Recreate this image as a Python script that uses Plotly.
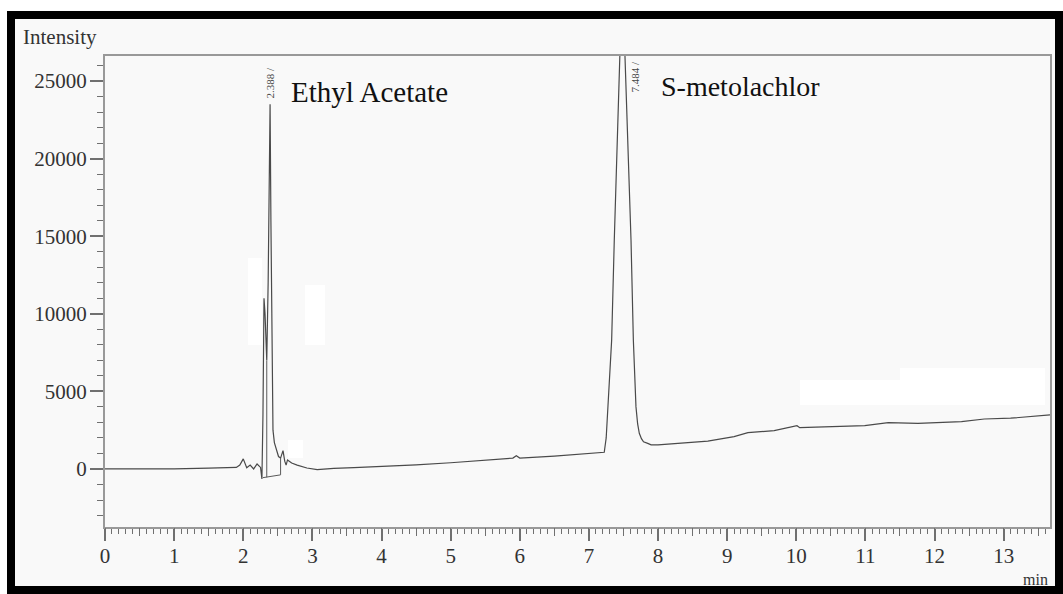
import plotly.graph_objects as go

# ---- data ----
time_min = [0.0, 0.5, 1.0, 1.5, 1.9, 1.95, 2.0, 2.05, 2.1, 2.15, 2.2, 2.25, 2.27,
            2.285, 2.30, 2.315, 2.34, 2.36, 2.375, 2.388, 2.40, 2.415, 2.43, 2.45,
            2.48, 2.51, 2.54, 2.575, 2.60, 2.62, 2.64, 2.70, 2.78, 2.92, 3.07, 3.31,
            3.6, 4.0, 4.27, 4.5, 5.0, 5.5, 5.9, 5.95, 6.0, 6.5, 7.0, 7.222, 7.25,
            7.271, 7.30, 7.329, 7.367, 7.406, 7.445, 7.484, 7.522, 7.561, 7.609,
            7.643, 7.665, 7.681, 7.705, 7.729, 7.76, 7.79, 7.851, 7.9, 8.0, 8.38,
            8.72, 9.1, 9.3, 9.68, 10.01, 10.05, 10.55, 10.99, 11.33, 11.76, 12.39,
            12.72, 13.1, 13.67]
intensity = [0, 0, 10, 60, 100, 250, 650, 80, 250, 0, 320, 100, -650,
             3500, 11000, 10000, 7000, 12000, 20000, 23500, 16000, 7000, 2500, 1700,
             1200, 800, 700, 1180, 500, 250, 580, 380, 250, 60, -40, 40,
             80, 150, 200, 260, 400, 540, 700, 850, 700, 830, 1000, 1075, 2000,
             3600, 6000, 8300, 14750, 21200, 26570, 32000, 26570, 21200, 14750,
             8300, 5600, 4000, 2900, 2300, 1950, 1750, 1650, 1550, 1550, 1670,
             1800, 2080, 2340, 2470, 2790, 2660, 2730, 2790, 2980, 2940, 3050,
             3220, 3270, 3480]

# integration baseline / drop lines drawn by the software
base_t = [2.285, 2.54, 2.54, None, 2.34, 2.34]
base_i = [-560, -380, 700, None, -540, 7000]

peak_labels = ["2.388 /", "7.484 /"]
peak_label_t = [2.393, 7.66]
compound_names = ["Ethyl Acetate", "S-metolachlor"]

x_range = [0, 13.67]
y_range = [-3740, 26610]

# ---- layout geometry (pixels) ----
W, H = 1063, 594
L, R, T, B = 105, 13, 56, 67
PW, PH = W - L - R, H - T - B

def px(x):
    return (x - L) / PW

def py(y):
    return (H - B - y) / PH

SERIF = "Liberation Serif, Times New Roman, serif"

fig = go.Figure()
fig.add_trace(go.Scatter(x=time_min, y=intensity, mode="lines",
                         line=dict(color="#4a4a4a", width=1.2), hoverinfo="skip",
                         showlegend=False))
fig.add_trace(go.Scatter(x=base_t, y=base_i, mode="lines",
                         line=dict(color="#5a5a5a", width=1), hoverinfo="skip",
                         showlegend=False))
# invisible trace to carry the half-minute tick axis
fig.add_trace(go.Scatter(x=[0], y=[0], xaxis="x2", mode="markers",
                         marker=dict(opacity=0), hoverinfo="skip", showlegend=False))

axis_col = "#999999"
tick_col = "#707070"
tick_font = dict(family=SERIF, size=21, color="#333333")

fig.update_layout(
    width=W, height=H,
    margin=dict(l=L, r=R, t=T, b=B, pad=0),
    paper_bgcolor="white",
    plot_bgcolor="rgba(0,0,0,0)",
    xaxis=dict(range=x_range, dtick=1, tick0=0, ticks="outside", ticklen=12,
               tickwidth=1.5, tickcolor=tick_col, showgrid=False, zeroline=False,
               showline=True, linecolor=axis_col, linewidth=2, mirror=True,
               tickfont=tick_font, tickformat="d", ticklabelstandoff=-3,
               minor=dict(dtick=0.1, tick0=0, ticks="outside", ticklen=5,
                          tickwidth=1.2, tickcolor=tick_col, showgrid=False)),
    xaxis2=dict(range=x_range, overlaying="x", anchor="y", side="bottom",
                dtick=0.5, tick0=0, ticks="outside", ticklen=8, tickwidth=1.2,
                tickcolor=tick_col, showticklabels=False, showgrid=False,
                zeroline=False, showline=False),
    yaxis=dict(range=y_range, dtick=5000, tick0=0, ticks="outside", ticklen=13,
               tickwidth=1.5, tickcolor=tick_col, showgrid=False, zeroline=False,
               showline=True, linecolor=axis_col, linewidth=2, mirror=True,
               tickfont=tick_font, tickformat="d", ticklabelstandoff=-1,
               minor=dict(dtick=1000, tick0=0, ticks="outside", ticklen=6,
                          tickwidth=1.2, tickcolor=tick_col, showgrid=False)),
)

shapes = [
    # black outer frame with light background
    dict(type="rect", xref="paper", yref="paper", layer="below",
         x0=px(11), x1=px(1059), y0=py(590), y1=py(15),
         line=dict(color="black", width=8), fillcolor="#f9f9f9"),
]
# white retouch patches seen in the image
for (x0, y0, x1, y1) in [(248, 258, 262, 345), (305, 285, 325, 345),
                         (288, 440, 303, 458), (800, 380, 1045, 405),
                         (900, 368, 1045, 382)]:
    shapes.append(dict(type="rect", xref="paper", yref="paper", layer="below",
                       x0=px(x0), x1=px(x1), y0=py(y1), y1=py(y0),
                       line=dict(width=0), fillcolor="white"))
fig.update_layout(shapes=shapes)

ann = [
    dict(text="Intensity", xref="paper", yref="paper", x=px(21), y=py(37),
         xanchor="left", yanchor="middle", showarrow=False,
         font=dict(family=SERIF, size=21, color="#333333")),
    dict(text="min", xref="paper", yref="paper", x=px(1050), y=py(579),
         xanchor="right", yanchor="middle", showarrow=False,
         font=dict(family=SERIF, size=16, color="#333333")),
    dict(text=compound_names[0], xref="paper", yref="paper", x=px(289), y=py(92),
         xanchor="left", yanchor="middle", showarrow=False,
         font=dict(family=SERIF, size=29, color="#111111")),
    dict(text=compound_names[1], xref="paper", yref="paper", x=px(659), y=py(86),
         xanchor="left", yanchor="middle", showarrow=False,
         font=dict(family=SERIF, size=28, color="#111111")),
]
for lab, t, yc in zip(peak_labels, peak_label_t, [82, 77]):
    ann.append(dict(text=lab, xref="x", yref="paper", x=t, y=py(yc),
                    xanchor="center", yanchor="middle", textangle=-90,
                    showarrow=False,
                    font=dict(family=SERIF, size=11, color="#444444"),
                    bgcolor="rgba(249,249,249,1)"))
fig.update_layout(annotations=ann)

fig.write_html("out.html")
